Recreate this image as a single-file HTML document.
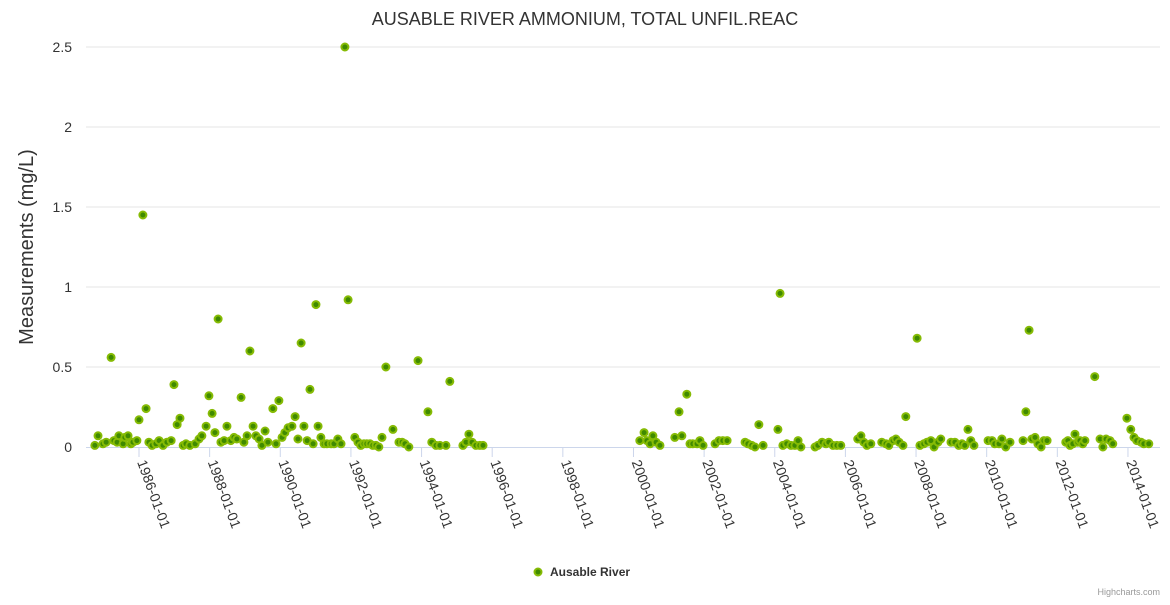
<!DOCTYPE html>
<html><head><meta charset="utf-8"><style>
body{margin:0;background:#fff;font-family:"Liberation Sans",sans-serif}
svg text{font-family:"Liberation Sans",sans-serif}
</style></head><body>
<svg id="chart" width="1170" height="600" xmlns="http://www.w3.org/2000/svg">
<rect width="1170" height="600" fill="#fff"/>
<text x="585" y="25" text-anchor="middle" font-size="18" fill="#333">AUSABLE RIVER AMMONIUM, TOTAL UNFIL.REAC</text>
<text transform="translate(33,247) rotate(-90)" text-anchor="middle" font-size="20" fill="#333">Measurements (mg/L)</text>
<g id="grid"></g><g id="xaxis"></g><g id="series"></g>
<g>
<circle cx="538" cy="572" r="3.5" fill="#3f8a00" stroke="#86bb05" stroke-width="2"/>
<text x="550" y="576" font-size="12" font-weight="bold" fill="#333">Ausable River</text>
</g>
<text x="1160" y="595" text-anchor="end" font-size="9" fill="#999">Highcharts.com</text>
</svg>
<script>
const yTicks=[0,0.5,1,1.5,2,2.5];
const yTickLabels=["0","0.5","1","1.5","2","2.5"];
const xTicks=[1986,1988,1990,1992,1994,1996,1998,2000,2002,2004,2006,2008,2010,2012,2014];
const dates=[1984.75,1984.84,1984.98,1985.07,1985.21,1985.29,1985.38,1985.43,1985.55,1985.60,1985.69,1985.77,1985.83,1985.94,1986.00,1986.11,1986.20,1986.28,1986.37,1986.48,1986.57,1986.68,1986.79,1986.91,1986.99,1987.08,1987.16,1987.25,1987.33,1987.44,1987.59,1987.70,1987.78,1987.90,1987.98,1988.07,1988.15,1988.24,1988.32,1988.41,1988.49,1988.60,1988.69,1988.77,1988.89,1988.97,1989.06,1989.14,1989.23,1989.31,1989.40,1989.48,1989.57,1989.65,1989.79,1989.88,1989.96,1990.05,1990.13,1990.22,1990.33,1990.42,1990.50,1990.59,1990.67,1990.76,1990.84,1990.93,1991.01,1991.07,1991.15,1991.24,1991.32,1991.44,1991.52,1991.63,1991.72,1991.83,1991.92,1992.11,1992.20,1992.28,1992.37,1992.45,1992.54,1992.62,1992.71,1992.79,1992.88,1992.99,1993.19,1993.36,1993.45,1993.53,1993.64,1993.90,1994.18,1994.29,1994.41,1994.52,1994.69,1994.80,1995.17,1995.26,1995.34,1995.43,1995.54,1995.65,1995.74,
2000.18,2000.30,2000.38,2000.47,2000.55,2000.64,2000.75,2001.17,2001.29,2001.37,2001.51,2001.60,2001.68,2001.80,2001.88,2001.97,2002.31,2002.42,2002.53,2002.65,2003.16,2003.24,2003.35,2003.44,2003.55,2003.67,2004.09,2004.15,2004.23,2004.34,2004.46,2004.57,2004.66,2004.74,2005.14,2005.22,2005.34,2005.45,2005.53,2005.65,2005.76,2005.87,2006.35,2006.44,2006.52,2006.61,2006.72,2007.03,2007.15,2007.23,2007.35,2007.43,2007.52,2007.63,2007.71,2008.03,2008.11,2008.22,2008.31,2008.42,2008.51,2008.62,2008.70,2008.99,2009.10,2009.21,2009.30,2009.38,2009.47,2009.55,2009.64,2010.04,2010.15,2010.23,2010.35,2010.43,2010.54,2010.66,2011.03,2011.11,2011.20,2011.28,2011.37,2011.45,2011.54,2011.62,2011.71,2012.24,2012.30,2012.36,2012.44,2012.50,2012.58,2012.64,2012.72,2012.78,2013.06,2013.21,2013.29,2013.38,2013.49,2013.57,2013.97,2014.08,2014.17,2014.25,2014.37,2014.45,2014.59];
const values=[0.01,0.07,0.02,0.03,0.56,0.04,0.03,0.07,0.02,0.06,0.07,0.02,0.03,0.04,0.17,1.45,0.24,0.03,0.01,0.02,0.04,0.01,0.03,0.04,0.39,0.14,0.18,0.01,0.02,0.01,0.02,0.05,0.07,0.13,0.32,0.21,0.09,0.8,0.03,0.04,0.13,0.04,0.06,0.05,0.31,0.03,0.07,0.6,0.13,0.07,0.05,0.01,0.1,0.03,0.24,0.02,0.29,0.06,0.09,0.12,0.13,0.19,0.05,0.65,0.13,0.04,0.36,0.02,0.89,0.13,0.06,0.02,0.02,0.02,0.02,0.05,0.02,2.5,0.92,0.06,0.03,0.01,0.02,0.02,0.02,0.01,0.01,0.0,0.06,0.5,0.11,0.03,0.03,0.02,0.0,0.54,0.22,0.03,0.01,0.01,0.01,0.41,0.01,0.03,0.08,0.03,0.01,0.01,0.01,
0.04,0.09,0.04,0.02,0.07,0.03,0.01,0.06,0.22,0.07,0.33,0.02,0.02,0.02,0.04,0.01,0.02,0.04,0.04,0.04,0.03,0.02,0.01,0.0,0.14,0.01,0.11,0.96,0.01,0.02,0.01,0.01,0.04,0.0,0.0,0.01,0.03,0.02,0.03,0.01,0.01,0.01,0.05,0.07,0.03,0.01,0.02,0.03,0.02,0.01,0.04,0.05,0.03,0.01,0.19,0.68,0.01,0.02,0.03,0.04,0.0,0.03,0.05,0.03,0.03,0.01,0.02,0.01,0.11,0.04,0.01,0.04,0.04,0.02,0.02,0.05,0.0,0.03,0.04,0.22,0.73,0.05,0.06,0.02,0.0,0.04,0.04,0.03,0.04,0.01,0.02,0.08,0.03,0.04,0.02,0.04,0.44,0.05,0.0,0.05,0.04,0.02,0.18,0.11,0.06,0.04,0.03,0.02,0.02];
const NS="http://www.w3.org/2000/svg";
const PL=86,PR=1160,Y0=447,YT=47,YMAX=2.5;
function xS(t){return 139+(t-1986)*35.32;}
function yS(v){return Y0-(v/YMAX)*(Y0-YT);}
function mk(tag,attrs,parent){const e=document.createElementNS(NS,tag);for(const k in attrs)e.setAttribute(k,attrs[k]);parent.appendChild(e);return e;}
const grid=document.getElementById('grid');
yTicks.forEach((v,i)=>{
  if(v>0){const l=mk('line',{x1:PL,x2:PR,y1:yS(v),y2:yS(v),stroke:'#e6e6e6','stroke-width':1},grid);
  
  }
  const t=mk('text',{x:72,y:yS(v)+5,'text-anchor':'end','font-size':14,fill:'#333'},grid);
  
  
  t.textContent=yTickLabels[i];
});
const xa=document.getElementById('xaxis');
const ax=mk('line',{x1:PL,x2:PR,y1:Y0+0.5,y2:Y0+0.5,stroke:'#ccd6eb','stroke-width':1},xa);


xTicks.forEach(yr=>{
  const x=xS(yr);
  const tk=mk('line',{x1:x,x2:x,y1:Y0,y2:Y0+10,stroke:'#ccd6eb'},xa);
  
  
  const t=mk('text',{transform:`translate(${x-2},${Y0+15}) rotate(70)`,'font-size':14,fill:'#333'},xa);
  
  
  t.textContent=yr+'-01-01';
});
const sg=document.getElementById('series');
dates.forEach((d,i)=>{
  const c=mk('circle',{cx:xS(d),cy:yS(values[i]),r:3.5,fill:'#3f8a00',stroke:'#86bb05','stroke-width':2},sg);
  
  
});
</script>
</body></html>
